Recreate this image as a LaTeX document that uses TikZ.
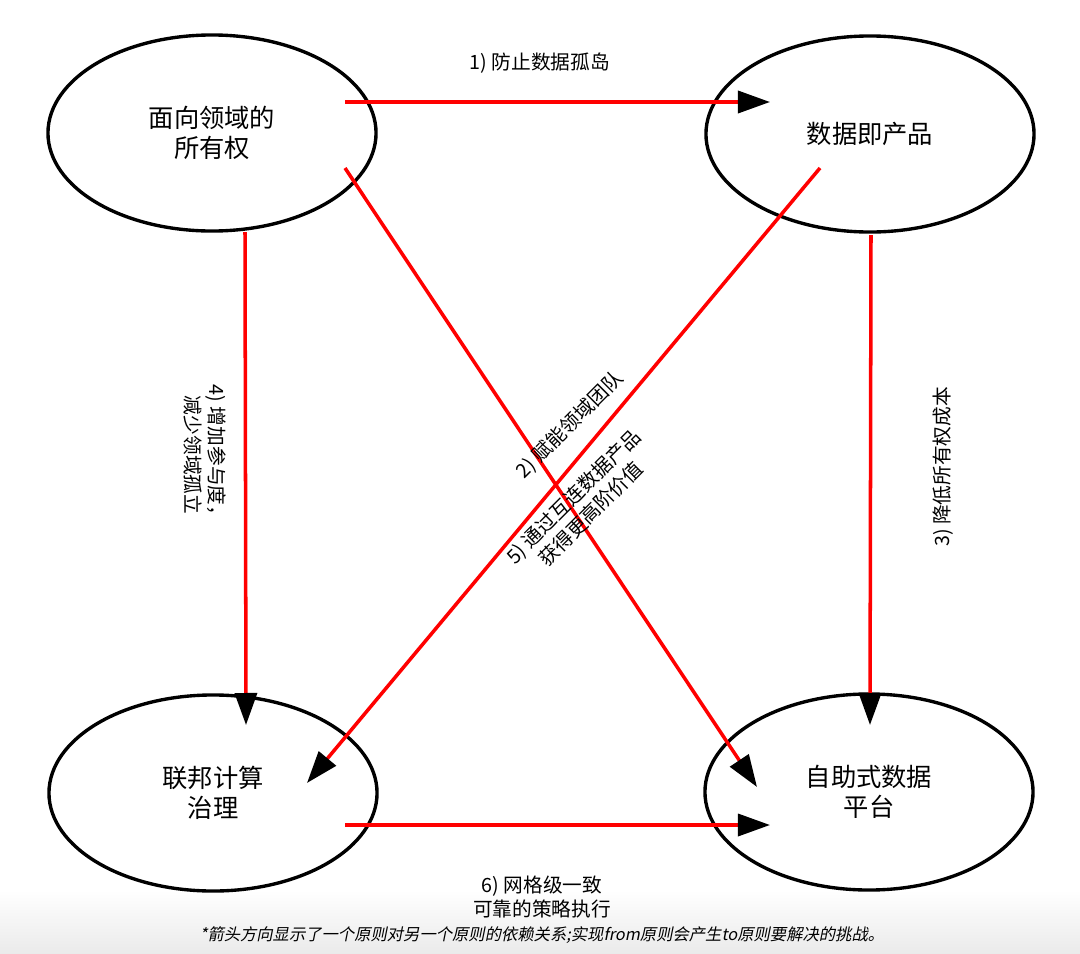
\documentclass[tikz,border=0pt]{standalone}
\usepackage{fontspec}
\setmainfont{Noto Sans CJK SC}
\newfontfamily\notefont{Noto Sans CJK SC}[FakeSlant=0.2]
\usetikzlibrary{arrows.meta,shapes.geometric,calc}
\definecolor{dmred}{HTML}{FF0000}
\definecolor{dmgrey}{HTML}{EAEAEA}
\tikzset{
  principle/.style={draw=black,line width=2.4pt,ellipse,align=center,
              minimum width=8.2cm,minimum height=4.9cm,inner sep=2pt,
              font=\fontsize{18}{21.5}\selectfont},
  dep/.style={-{Triangle[length=0.8cm,width=0.55cm,color=black]},
              line width=2.5pt,dmred},
  lab/.style={align=center,inner sep=1pt,font=\fontsize{14}{17.5}\selectfont},
}
\begin{document}
\begin{tikzpicture}[x=0.025cm,y=-0.025cm]
    \useasboundingbox (0,0) rectangle (1080,954);
    \shade[top color=white,bottom color=dmgrey] (0,890) rectangle (1080,954);
    % the four principles
    \node[principle] (own)  at (212,133) {面向领域的\\所有权};
    \node[principle] (prod) at (870,134) {数据即产品};
    \node[principle] (gov)  at (213,793) {联邦计算\\治理};
    \node[principle] (plat) at (869,792) {自助式数据\\平台};
    % dependencies
    \draw[dep] ($(own)+(133,-31)$) -- ($(prod)+(-100,-32)$);
    \draw[dep] ($(own)+(133,35)$)  -- ($(plat)+(-112,-5)$);
    \draw[dep] ($(prod)+(1,101)$)  -- ($(plat)+(1,-67)$);
    \draw[dep] ($(own)+(33,99)$)   -- ($(gov)+(33,-68)$);
    \draw[dep] ($(prod)+(-50,34)$) -- ($(gov)+(94,-10)$);
    \draw[dep] ($(gov)+(132,32)$)  -- ($(plat)+(-99,33)$);
    \node[lab] (l1) at (540,63) {1) 防止数据孤岛};
    \node[lab,rotate=45] (l2) at (570,425) {2) 赋能领域团队};
    \node[lab,rotate=90] (l3) at (943,467) {3) 降低所有权成本};
    \node[lab,rotate=-90] (l4) at (205,455) {4) 增加参与度，\\减少领域孤立};
    \node[lab,rotate=45] (l5) at (582,505) {5) 通过互连数据产品\\获得更高阶价值};
    \node[lab] (l6) at (542,897) {6) 网格级一致\\可靠的策略执行};
    \node[inner sep=1pt,font=\notefont\fontsize{11.6}{14}\selectfont] (note) at (542,935)
      {*箭头方向显示了一个原则对另一个原则的依赖关系;实现from原则会产生to原则要解决的挑战。};
  \end{tikzpicture}
\end{document}
